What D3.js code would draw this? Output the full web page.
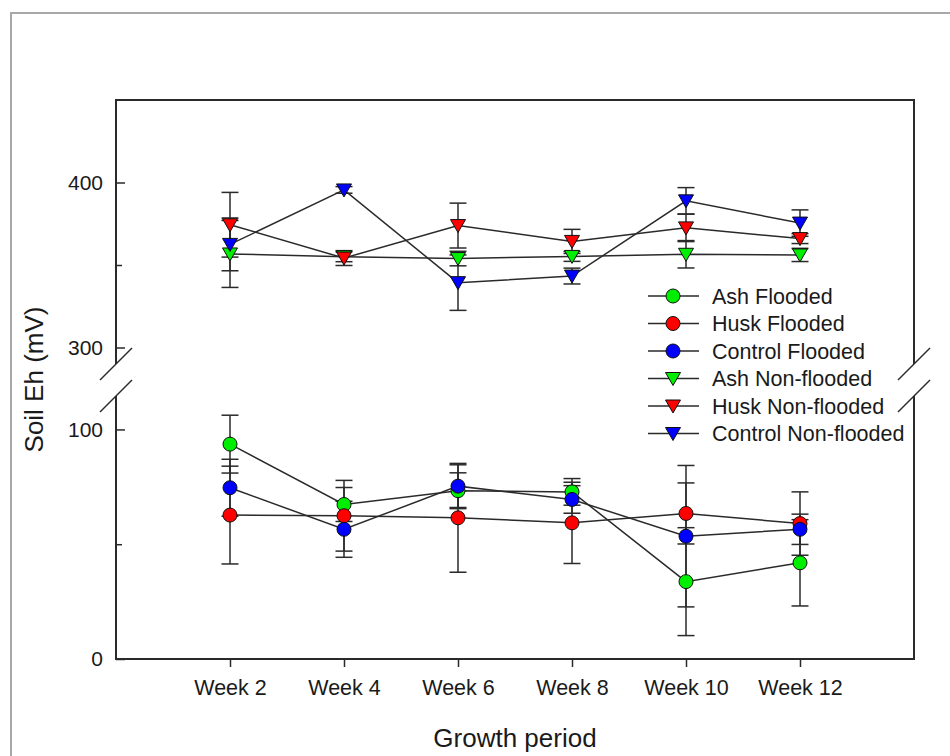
<!DOCTYPE html>
<html>
<head>
<meta charset="utf-8">
<script src="https://cdn.jsdelivr.net/npm/d3@7"></script>
<style>
  body { margin: 0; background: #fff; }
  svg { display: block; font-family: "Liberation Sans", Arial, sans-serif; }
</style>
</head>
<body>
<svg id="chart" width="950" height="756"></svg>
<script>
// categories
const weeks = [2, 4, 6, 8, 10, 12];
const weekLabels = ["Week 2", "Week 4", "Week 6", "Week 8", "Week 10", "Week 12"];

// flooded (lower segment, circles)
const ashFlooded = [93.6, 67.3, 73.3, 72.8, 33.7, 41.9];
const ashFloodedErr = [12.6, 7.4, 7.8, 5.8, 23.5, 18.8];
const huskFlooded = [62.7, 62.4, 61.5, 59.3, 63.4, 59.0];
const huskFloodedErr = [21.3, 15.4, 23.7, 17.7, 13.3, 13.8];
const controlFlooded = [74.6, 56.5, 75.3, 69.5, 53.5, 56.5];
const controlFloodedErr = [12.4, 12.2, 9.3, 6.0, 30.8, 6.6];

// non-flooded (upper segment, triangles)
const ashNonFlooded = [356.7, 355.0, 353.9, 355.2, 356.5, 356.1];
const ashNonFloodedErr = [20.3, 3.0, 4.4, 3.0, 8.3, 4.0];
const huskNonFlooded = [374.4, 354.2, 373.9, 364.3, 372.5, 366.0];
const huskNonFloodedErr = [19.6, 4.5, 13.6, 7.3, 8.3, 3.0];
const controlNonFlooded = [362.5, 395.5, 339.3, 343.3, 388.9, 375.4];
const controlNonFloodedErr = [16.0, 2.0, 16.8, 4.8, 8.0, 8.0];

// y axis ticks
const upperTicks = [300, 400];
const upperMinor = [350];
const lowerTicks = [0, 100];
const lowerMinor = [50];

const series = [
  {name: "Ash Flooded", values: ashFlooded, err: ashFloodedErr, color: "#00ee00", shape: "circle", seg: "lo"},
  {name: "Husk Flooded", values: huskFlooded, err: huskFloodedErr, color: "#ff0000", shape: "circle", seg: "lo"},
  {name: "Control Flooded", values: controlFlooded, err: controlFloodedErr, color: "#0000ff", shape: "circle", seg: "lo"},
  {name: "Ash Non-flooded", values: ashNonFlooded, err: ashNonFloodedErr, color: "#00ee00", shape: "tri", seg: "up"},
  {name: "Husk Non-flooded", values: huskNonFlooded, err: huskNonFloodedErr, color: "#ff0000", shape: "tri", seg: "up"},
  {name: "Control Non-flooded", values: controlNonFlooded, err: controlNonFloodedErr, color: "#0000ff", shape: "tri", seg: "up"}
];

const svg = d3.select("#chart");
const plotLeft = 116, plotRight = 914, plotTop = 100, plotBottom = 659;
const breakTop = 364, breakBottom = 396;
const ink = "#2a2a2a";
const textColor = "#1a1a1a";

const x = d3.scaleLinear().domain([0, 14]).range([plotLeft, plotRight]);
const yUp = d3.scaleLinear().domain([290, 450]).range([breakTop, plotTop]);
const yLo = d3.scaleLinear().domain([0, 115]).range([plotBottom, breakBottom - 1]);

// outer gray frame
svg.append("path")
  .attr("d", "M11,756 L11,13 L950,13")
  .attr("fill", "none")
  .attr("stroke", "#a8a8a8")
  .attr("stroke-width", 2);

// plot frame with broken sides
const frame = svg.append("g")
  .attr("stroke", ink)
  .attr("stroke-width", 2)
  .attr("fill", "none");
frame.append("path").attr("d", `M${plotLeft},${breakTop} L${plotLeft},${plotTop} L${plotRight},${plotTop} L${plotRight},${breakTop}`);
frame.append("path").attr("d", `M${plotLeft},${breakBottom} L${plotLeft},${plotBottom} L${plotRight},${plotBottom} L${plotRight},${breakBottom}`);

// break marks
[plotLeft, plotRight].forEach(function(bx) {
  [breakTop, breakBottom].forEach(function(by) {
    svg.append("line")
      .attr("x1", bx - 16).attr("y1", by + 16)
      .attr("x2", bx + 16).attr("y2", by - 16)
      .attr("stroke", ink)
      .attr("stroke-width", 1.5);
  });
});

// y axes (inward ticks)
function yAxis(scale, major, minor) {
  const g = svg.append("g").attr("transform", `translate(${plotLeft},0)`);
  g.call(d3.axisLeft(scale).tickValues(major).tickSize(-9).tickPadding(13).tickFormat(d3.format("d")));
  g.append("g").call(d3.axisLeft(scale).tickValues(minor).tickSize(-6).tickFormat(""));
  g.selectAll(".domain").remove();
  g.selectAll("line").attr("stroke", ink).attr("stroke-width", 1.5);
  g.selectAll("text").attr("fill", textColor).style("font-size", "21px");
}
yAxis(yUp, upperTicks, upperMinor);
yAxis(yLo, lowerTicks, lowerMinor);

// x axis
const gx = svg.append("g").attr("transform", `translate(0,${plotBottom})`);
gx.call(d3.axisBottom(x).tickValues(weeks).tickSize(8).tickPadding(13)
  .tickFormat(function(d, i) { return weekLabels[i]; }));
gx.selectAll(".domain").remove();
gx.selectAll("line").attr("stroke", ink).attr("stroke-width", 1.5);
gx.selectAll("text").attr("fill", textColor).style("font-size", "21.5px");

// axis titles
svg.append("text")
  .attr("x", (plotLeft + plotRight) / 2).attr("y", 747)
  .attr("text-anchor", "middle")
  .attr("fill", textColor)
  .style("font-size", "26px")
  .text("Growth period");
svg.append("text")
  .attr("transform", `translate(43,${(plotTop + plotBottom) / 2}) rotate(-90)`)
  .attr("text-anchor", "middle")
  .attr("fill", textColor)
  .style("font-size", "26px")
  .text("Soil Eh (mV)");

// marker drawing
function marker(sel, shape, color) {
  if (shape === "circle") {
    sel.append("circle").attr("r", 7);
  } else {
    sel.append("path").attr("d", "M-7.5,-6 L7.5,-6 L0,7 Z");
  }
  sel.selectAll("circle, path")
    .attr("fill", color)
    .attr("stroke", "#111")
    .attr("stroke-width", 1);
}

// error bars
const bars = svg.append("g").attr("stroke", ink).attr("stroke-width", 1.5);
series.forEach(function(s) {
  const y = s.seg === "up" ? yUp : yLo;
  s.values.forEach(function(v, i) {
    const cx = x(weeks[i]);
    const y1 = y(v + s.err[i]), y2 = y(v - s.err[i]);
    bars.append("line").attr("x1", cx).attr("x2", cx).attr("y1", y1).attr("y2", y2);
    bars.append("line").attr("x1", cx - 8.5).attr("x2", cx + 8.5).attr("y1", y1).attr("y2", y1);
    bars.append("line").attr("x1", cx - 8.5).attr("x2", cx + 8.5).attr("y1", y2).attr("y2", y2);
  });
});

// connecting lines
series.forEach(function(s) {
  const y = s.seg === "up" ? yUp : yLo;
  const line = d3.line()
    .x(function(d, i) { return x(weeks[i]); })
    .y(function(d) { return y(d); });
  svg.append("path")
    .datum(s.values)
    .attr("d", line)
    .attr("fill", "none")
    .attr("stroke", ink)
    .attr("stroke-width", 1.5);
});

// markers
series.forEach(function(s) {
  const y = s.seg === "up" ? yUp : yLo;
  svg.append("g").selectAll("g")
    .data(s.values)
    .join("g")
    .attr("transform", function(d, i) { return `translate(${x(weeks[i])},${y(d)})`; })
    .each(function() { marker(d3.select(this), s.shape, s.color); });
});

// legend
const legend = svg.append("g").attr("transform", "translate(648,296)");
series.forEach(function(s, i) {
  const row = legend.append("g").attr("transform", `translate(0,${i * 27.5})`);
  row.append("line")
    .attr("x1", 0).attr("x2", 51)
    .attr("stroke", ink).attr("stroke-width", 1.5);
  marker(row.append("g").attr("transform", "translate(25,0)"), s.shape, s.color);
  row.append("text")
    .attr("x", 64).attr("y", 7.5)
    .attr("fill", textColor)
    .style("font-size", "21.5px")
    .text(s.name);
});
</script>
</body>
</html>
